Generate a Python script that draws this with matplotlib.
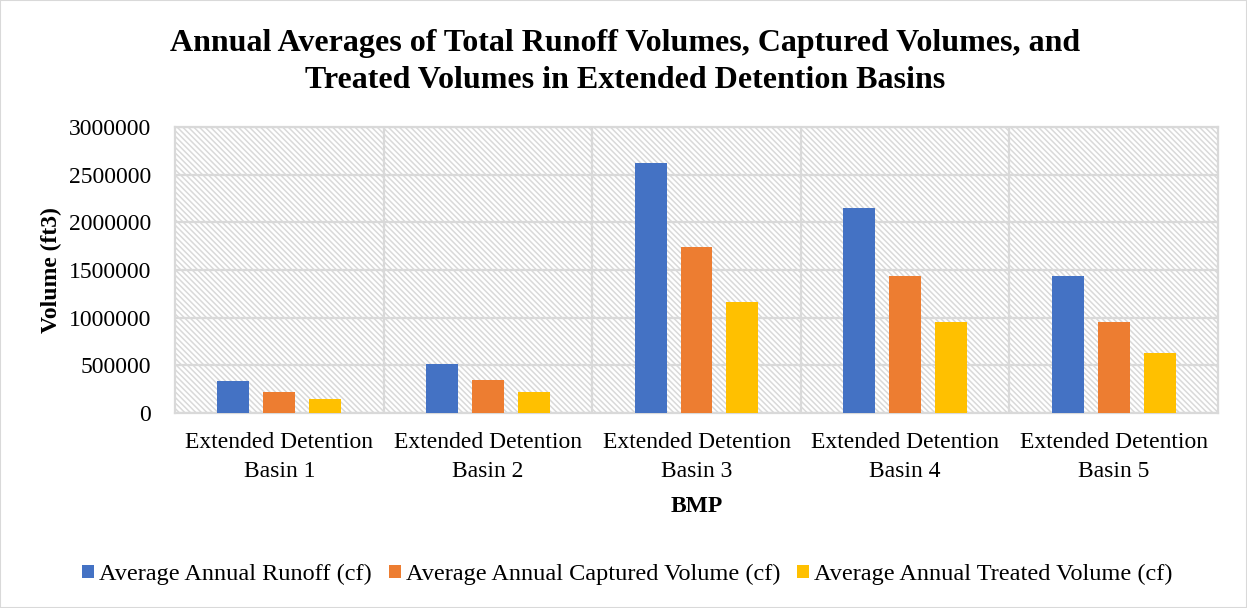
import matplotlib
matplotlib.use("Agg")
from matplotlib import pyplot as plt
from matplotlib.patches import Rectangle
import numpy as np

plt.rcParams['font.family'] = ['Liberation Serif', 'DejaVu Serif']
plt.rcParams['hatch.color'] = '#d9d9d9'
plt.rcParams['hatch.linewidth'] = 1.1

categories = ["Extended Detention\nBasin 1", "Extended Detention\nBasin 2",
              "Extended Detention\nBasin 3", "Extended Detention\nBasin 4",
              "Extended Detention\nBasin 5"]
runoff = [338000, 514000, 2619000, 2154000, 1437000]
captured = [222000, 343000, 1744000, 1434000, 955000]
treated = [144000, 224000, 1164000, 955000, 633000]
series_names = ["Average Annual Runoff (cf)", "Average Annual Captured Volume (cf)",
                "Average Annual Treated Volume (cf)"]
colors = ["#4472c4", "#ed7d31", "#ffc000"]

fig = plt.figure(figsize=(12.47, 6.08), dpi=100)
fig.patches.append(Rectangle((0, 0), 1, 1, transform=fig.transFigure, fill=False,
                             edgecolor='#d9d9d9', linewidth=1.5))
ax = fig.add_axes([0.1403, 0.3207, 0.8365, 0.4704])

# patterned plot area
ax.add_patch(Rectangle((0, 0), 1, 1, transform=ax.transAxes, facecolor='white',
                       hatch='\\\\\\\\\\\\', edgecolor='#d9d9d9', linewidth=0, zorder=0))

x = np.arange(len(categories))
w = 0.153
off = 0.22
for i, vals in enumerate([runoff, captured, treated]):
    ax.bar(x + (i - 1) * off, vals, width=w, color=colors[i], label=series_names[i], zorder=3)

ax.set_xlim(-0.5, len(categories) - 0.5)
ax.set_ylim(0, 3000000)
ax.set_yticks(np.arange(0, 3000001, 500000))
ax.set_yticklabels([str(v) for v in range(0, 3000001, 500000)], fontsize=17)
ax.set_xticks(x)
ax.set_xticklabels(categories, fontsize=17, linespacing=1.45)
ax.tick_params(axis='x', length=0, pad=14)
ax.tick_params(axis='y', length=0, pad=17)

ax.yaxis.grid(True, color='#d9d9d9', linewidth=1.6, zorder=1)
ax.set_axisbelow(True)
for b in np.arange(0.5, len(categories) - 0.5):
    ax.axvline(b, color='#d9d9d9', linewidth=1.6, zorder=1)
for s in ax.spines.values():
    s.set_color('#d9d9d9')
    s.set_linewidth(1.6)

ax.set_ylabel("Volume (ft3)", fontsize=17, fontweight='bold', labelpad=5)
ax.set_xlabel("BMP", fontsize=17, fontweight='bold', labelpad=10)
fig.text(0.501, 0.898, "Annual Averages of Total Runoff Volumes, Captured Volumes, and\n"
         "Treated Volumes in Extended Detention Basins", ha='center', va='center',
         fontsize=23, fontweight='bold', linespacing=1.32)

fig.legend(loc='center', bbox_to_anchor=(0.503, 0.055), ncol=3, frameon=False,
           fontsize=17.5, handlelength=0.5, handleheight=0.5, handletextpad=0.2,
           columnspacing=0.7)

fig.savefig("out.png", dpi=100)
